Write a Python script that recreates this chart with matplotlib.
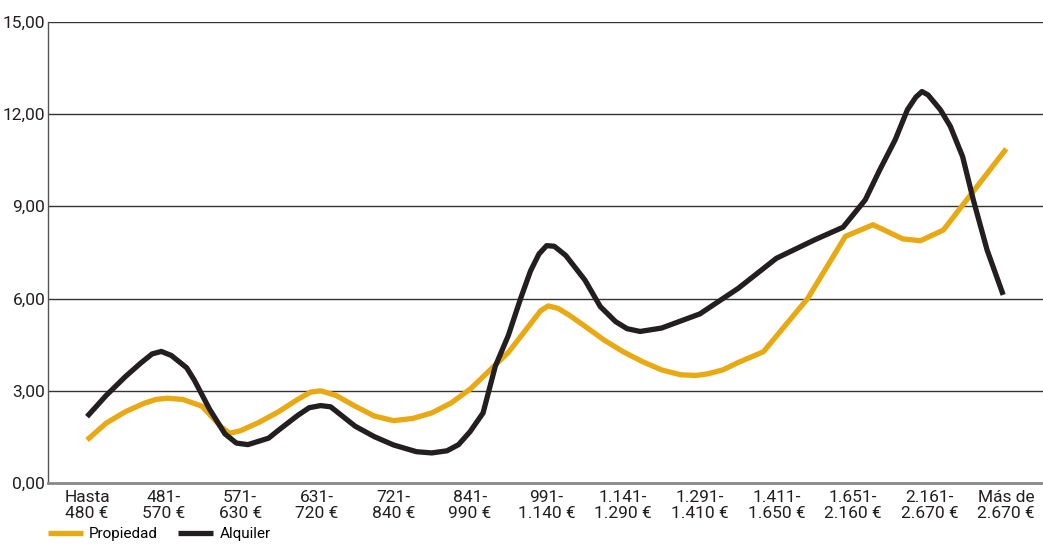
import matplotlib.pyplot as plt

plt.rcParams['font.family'] = ['Liberation Sans Narrow', 'Roboto', 'DejaVu Sans']

# Tramos de renta (categorías del eje X)
categories = ['Hasta\n480 €', '481-\n570 €', '571-\n630 €', '631-\n720 €', '721-\n840 €',
              '841-\n990 €', '991-\n1.140 €', '1.141-\n1.290 €', '1.291-\n1.410 €',
              '1.411-\n1.650 €', '1.651-\n2.160 €', '2.161-\n2.670 €', 'Más de\n2.670 €']

# Propiedad: posición (en índice de categoría) y valor
prop_x = [0.00, 0.25, 0.50, 0.75, 0.90, 1.05, 1.25, 1.50, 1.75, 1.86, 2.00, 2.25, 2.50,
          2.75, 2.92, 3.05, 3.25, 3.50, 3.75, 4.00, 4.25, 4.50, 4.75, 5.00, 5.25, 5.50,
          5.75, 5.92, 6.02, 6.15, 6.30, 6.50, 6.75, 7.00, 7.25, 7.50, 7.75, 7.95, 8.10,
          8.30, 8.50, 8.83, 9.41, 9.90, 10.26, 10.65, 10.88, 11.18, 12.00]
prop_y = [1.40, 1.95, 2.32, 2.60, 2.72, 2.76, 2.72, 2.50, 1.83, 1.62, 1.70, 1.98, 2.32,
          2.72, 2.96, 3.00, 2.85, 2.50, 2.18, 2.03, 2.10, 2.28, 2.60, 3.05, 3.65, 4.25,
          5.05, 5.60, 5.76, 5.68, 5.45, 5.10, 4.65, 4.27, 3.95, 3.68, 3.52, 3.50, 3.55,
          3.68, 3.92, 4.27, 6.01, 8.02, 8.40, 7.94, 7.88, 8.23, 10.87]

# Alquiler
alq_x = [0.00, 0.25, 0.50, 0.70, 0.85, 0.97, 1.10, 1.30, 1.40, 1.60, 1.80, 1.95, 2.10,
         2.37, 2.50, 2.75, 2.90, 3.05, 3.18, 3.50, 3.75, 4.00, 4.30, 4.50, 4.70, 4.85,
         5.00, 5.17, 5.33, 5.50, 5.66, 5.79, 5.90, 6.00, 6.10, 6.25, 6.50, 6.70, 6.90,
         7.05, 7.22, 7.50, 8.00, 8.50, 9.00, 9.50, 9.87, 10.16, 10.35, 10.55, 10.71,
         10.82, 10.90, 10.98, 11.14, 11.27, 11.43, 11.57, 11.75, 11.96]
alq_y = [2.16, 2.85, 3.46, 3.90, 4.20, 4.28, 4.15, 3.75, 3.35, 2.40, 1.60, 1.30, 1.25,
         1.46, 1.72, 2.20, 2.45, 2.52, 2.48, 1.85, 1.51, 1.24, 1.02, 0.98, 1.05, 1.25,
         1.67, 2.28, 3.80, 4.80, 6.00, 6.90, 7.45, 7.72, 7.70, 7.40, 6.60, 5.74, 5.25,
         5.02, 4.93, 5.04, 5.50, 6.33, 7.31, 7.91, 8.32, 9.21, 10.19, 11.16, 12.14,
         12.55, 12.73, 12.62, 12.14, 11.60, 10.62, 9.21, 7.58, 6.12]

yticks = [0, 3, 6, 9, 12, 15]
ytick_labels = ['0,00', '3,00', '6,00', '9,00', '12,00', '15,00']

fig = plt.figure(figsize=(10.43, 5.44), dpi=100)
ax = fig.add_axes([0.046, 0.112, 0.954, 0.848])

for y in yticks[1:]:
    ax.axhline(y, color='#333333', lw=1.0, zorder=1)

ax.plot(prop_x, prop_y, color='#E8A913', lw=3.8, solid_joinstyle='round',
        solid_capstyle='butt', label='Propiedad', zorder=3)
ax.plot(alq_x, alq_y, color='#231F20', lw=3.8, solid_joinstyle='round',
        solid_capstyle='butt', label='Alquiler', zorder=4)

ax.set_xlim(-0.51, 12.48)
ax.set_ylim(0, 15)
ax.set_yticks(yticks)
ax.set_yticklabels(ytick_labels, fontsize=12.5, color='#231F20')
ax.set_xticks(range(len(categories)))
ax.set_xticklabels(categories, fontsize=12.5, color='#231F20', linespacing=1.1)
ax.tick_params(length=0, pad=2)
ax.tick_params(axis='x', pad=5)

for s in ['top', 'right']:
    ax.spines[s].set_visible(False)
ax.spines['left'].set_color('#555555')
ax.spines['left'].set_linewidth(1.0)
ax.spines['bottom'].set_color('#888888')
ax.spines['bottom'].set_linewidth(2.0)

fig.legend(loc='center left', bbox_to_anchor=(0.046, 0.018), ncol=2, frameon=False,
           fontsize=11, handlelength=2.3, columnspacing=1.3, handletextpad=0.4,
           borderpad=0, borderaxespad=0)

fig.savefig('out.png', dpi=100)
